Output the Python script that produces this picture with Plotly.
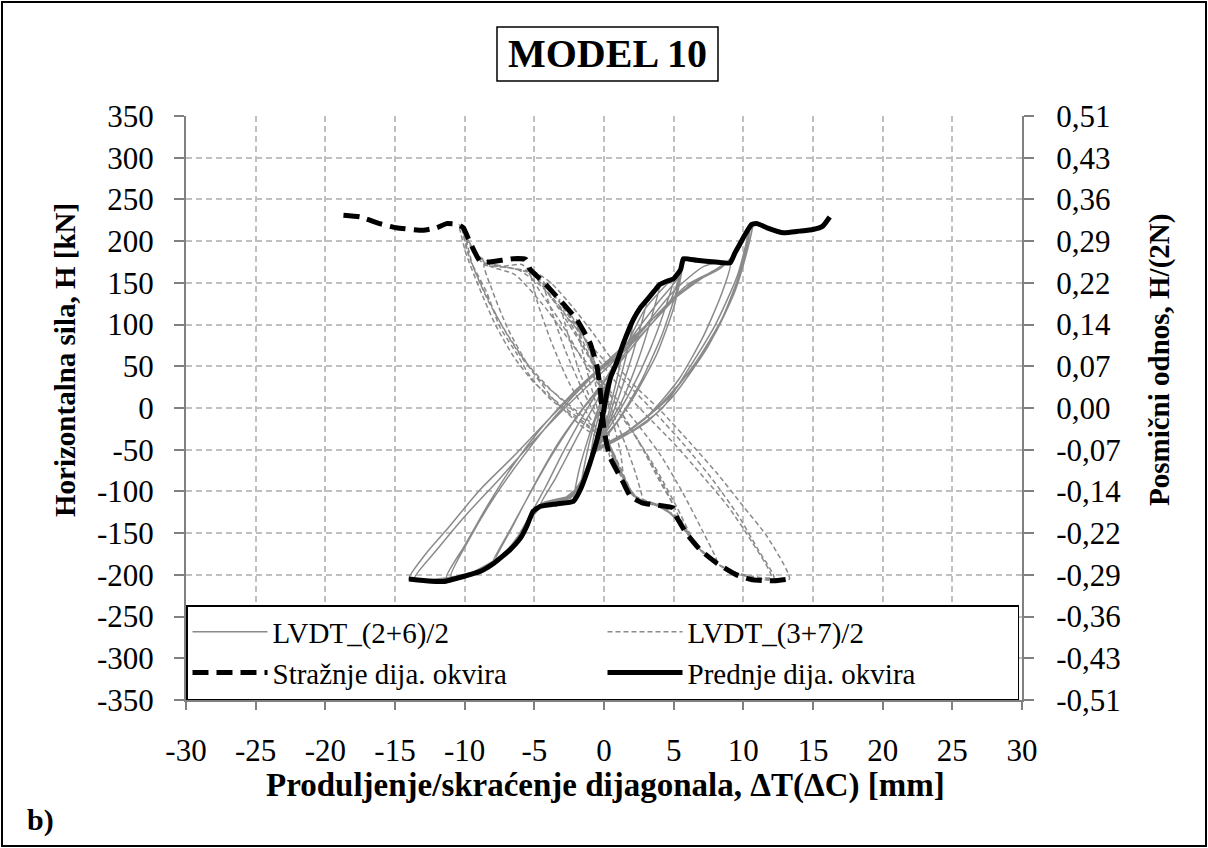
import plotly.graph_objects as go

# ---------------- data ----------------
x_ticks = [-30, -25, -20, -15, -10, -5, 0, 5, 10, 15, 20, 25, 30]
x_tick_labels = ["-30", "-25", "-20", "-15", "-10", "-5", "0", "5", "10", "15", "20", "25", "30"]
y_ticks = [350, 300, 250, 200, 150, 100, 50, 0, -50, -100, -150, -200, -250, -300, -350]
y_tick_labels = ["350", "300", "250", "200", "150", "100", "50", "0", "-50", "-100", "-150", "-200", "-250", "-300", "-350"]
y2_tick_labels = ["0,51", "0,43", "0,36", "0,29", "0,22", "0,14", "0,07", "0,00", "-0,07", "-0,14", "-0,22", "-0,29", "-0,36", "-0,43", "-0,51"]

# LVDT_(2+6)/2 hysteresis (thin solid grey)
lvdt26_x = [0, 0.25, 0.55, 0.35, 0.0, -0.4, -0.2, 0.1,
            0.4, 0.9, 1.4, 1.1, 0.6, 0.1, -0.5, -1.0, -0.8, -0.4, 0.1,
            0.8, 1.5, 2.1, 1.7, 1.0, 0.3, -0.6, -1.2, -1.7, -1.3, -0.8, -0.1, 0.7,
            1.5, 2.4, 3.1, 2.5, 1.5, 0.5, -0.6, -1.3, -2.2, -1.8, -1.2, -0.4, 0.6, 1.7,
            2.8, 4.0, 3.4, 2.4, 1.2, -0.2, -1.0, -1.7, -2.8, -4.6, -3.5, -2.4, -1.2, 0.2, 1.6, 3.0,
            5.0, 4.4, 3.3, 1.9, 0.5, -0.7, -1.5, -2.4, -4.2, -5.3, -4.2, -3.0, -1.6, 0.0, 1.8, 3.8, 5.5,
            5.7, 5.2, 4.1, 2.6, 1.0, -0.6, -1.5, -2.4, -4.4, -5.4, -6.6, -7.8, -6.5, -5.0, -3.4, -1.5, 0.6, 2.8, 5.0, 7.2, 9.05,
            8.4, 7.1, 5.4, 3.4, 1.2, -0.7, -1.6, -2.6, -4.6, -5.6, -6.8, -8.6, -11.3, -10.0, -8.4, -6.5, -4.4, -2.0, 0.6, 3.4, 6.2, 8.4, 9.4, 10.5,
            10.1, 9.0, 7.4, 5.0, 3.0, 1.0, -0.8, -1.6, -2.5, -4.4, -5.5, -6.9, -9.0, -11.5, -14.0, -12.8, -11.3, -8.9, -6.5, -4.0, -1.5, 1.5, 3.8, 6.0, 8.3, 9.4, 10.2, 10.7,
            10.3, 9.4, 8.0, 6.2, 3.8, 1.5, -0.6, -1.5, -2.4, -4.5, -5.6, -7.0, -9.5, -12.0, -13.6, -12.0, -10.0, -7.5, -5.2, -2.8, 0.0, 2.8, 5.5, 8.0, 9.2, 10.4,
            9.6, 8.0, 6.0, 4.2,
            1.8, -0.7, -1.5, -2.3, -4.3, -5.4, -6.7, -8.0, -6.8, -5.4, -3.8, -2.0, 0.2, 2.6, 4.8, 5.6,
            5.0, 3.8, 2.2, 0.6, -0.8, -1.6, -3.0, -4.8, -5.8, -7.2, -9.5, -11.0, -9.6, -7.8, -5.8, -3.5, -1.0, 1.8, 4.6, 7.4, 9.2, 10.3,
            9.8, 8.5, 6.6, 4.4, 2.0, -0.5, -1.4, -2.3, -4.4, -5.4, -6.4, -7.5]
lvdt26_h = [0, 22, 40, 15, -8, -30, -10, 12,
            30, 55, 78, 48, 12, -20, -42, -66, -40, -10, 20,
            52, 82, 106, 70, 25, -15, -48, -75, -98, -60, -25, 15, 50,
            85, 112, 130, 90, 35, -12, -48, -80, -112, -75, -40, 0, 45, 90,
            122, 148, 108, 55, 5, -35, -65, -95, -110, -118, -85, -50, -12, 30, 75, 120,
            155, 120, 70, 20, -20, -50, -85, -108, -114, -130, -95, -55, -12, 32, 80, 125, 160,
            178, 140, 85, 30, -15, -48, -82, -108, -116, -136, -165, -182, -140, -92, -45, 0, 45, 95, 140, 170, 174,
            135, 85, 35, -5, -35, -52, -88, -108, -117, -140, -168, -192, -203, -165, -118, -68, -22, 22, 62, 105, 148, 168, 186, 221,
            180, 125, 72, 15, -18, -38, -55, -86, -106, -115, -138, -170, -195, -204, -205, -175, -146, -98, -58, -14, 28, 70, 112, 148, 168, 184, 208, 222,
            190, 140, 90, 45, 0, -30, -52, -84, -106, -116, -140, -172, -198, -205, -204, -170, -130, -85, -42, 0, 45, 90, 138, 166, 180, 215,
            160, 100, 45, 0,
            -30, -50, -83, -105, -115, -136, -167, -185, -148, -105, -58, -12, 35, 85, 130, 165,
            120, 65, 15, -25, -55, -90, -110, -120, -145, -175, -197, -202, -155, -105, -58, -10, 35, 78, 125, 160, 178, 212,
            165, 108, 55, 8, -25, -50, -80, -104, -114, -132, -160, -180]

# LVDT_(3+7)/2 hysteresis (thin dashed grey)
lvdt37_x = [0, -0.2, -0.35, -0.15, 0.05, 0.25, 0.1, -0.1,
            -0.4, -0.75, -1.0, -0.8, -0.5, -0.1, 0.2, 0.4, 0.35, 0.1, -0.3,
            -0.9, -1.5, -1.96, -1.6, -1.0, -0.3, 0.3, 0.9, 1.4, 1.2, 0.7, 0.1, -0.6,
            -1.6, -2.5, -3.2, -2.7, -1.8, -0.7, 0.2, 0.9, 1.8, 2.8, 2.3, 1.5, 0.5, -0.6, -1.8,
            -3.0, -4.4, -3.8, -2.8, -1.5, -0.2, 0.5, 1.3, 2.2, 3.5, 5.0, 4.0, 2.8, 1.4, -0.1, -1.5, -3.0,
            -4.6, -5.3, -4.8, -3.8, -2.5, -1.0, 0.4, 1.4, 2.2, 4.0, 5.4, 5.9, 4.8, 3.4, 1.8, 0.2, -1.4, -3.2, -4.8, -5.9,
            -7.2, -8.6, -8.0, -6.9, -5.4, -3.6, -1.6, 0.3, 1.3, 2.1, 3.6, 5.4, 6.6, 8.1, 7.0, 5.6, 4.0, 2.2, 0.2, -2.0, -4.2, -6.4, -8.2, -9.2, -10.1,
            -9.6, -8.4, -7.5, -6.3, -5.3, -3.8, -1.8, 0.3, 1.3, 2.1, 3.8, 5.4, 6.6, 8.3, 10.3, 12.2, 11.0, 9.6, 7.8, 5.8, 3.8, 1.6, -0.8, -2.8, -4.5, -6.2, -8.2, -9.3, -10.4,
            -9.9, -8.9, -7.8, -6.5, -5.0, -3.2, -1.2, 0.4, 1.4, 2.2, 4.0, 5.5, 6.8, 8.6, 11.0, 13.3, 11.7, 10.0, 8.1, 6.2, 4.0, 2.0, 0.5, -0.8, -2.2, -3.8, -5.0, -7.5, -9.1, -9.9,
            -9.4, -8.3, -7.0, -5.6, -4.0, -2.2, -0.4, 0.5, 1.5, 2.5, 4.3, 5.6, 7.0, 9.0, 12.0, 10.6, 8.9, 7.0, 5.1, 3.0, 1.0, -0.7, -2.0, -3.6, -5.0, -6.8, -8.6, -9.5, -10.2,
            -9.7, -8.6, -7.2, -5.8, -4.4, -2.6, -0.8, 0.5, 1.4, 2.4, 4.2, 5.5, 6.4, 5.2, 3.8, 2.3, 0.6, -1.2, -3.0, -4.6, -5.4]
lvdt37_h = [0, 14, 30, 8, -10, -40, -15, 10,
            35, 60, 78, 50, 18, -15, -38, -58, -30, 0, 30,
            62, 88, 106, 72, 30, -10, -40, -68, -90, -55, -20, 15, 52,
            90, 115, 130, 95, 45, 0, -35, -66, -100, -114, -80, -42, 0, 45, 90,
            122, 152, 118, 70, 20, -22, -50, -82, -106, -116, -120, -88, -50, -10, 32, 75, 118,
            150, 166, 128, 80, 30, -12, -48, -82, -106, -118, -135, -150, -110, -66, -20, 22, 70, 118, 155, 172,
            170, 173, 140, 95, 50, 10, -22, -45, -80, -105, -116, -132, -165, -184, -145, -100, -55, -15, 25, 70, 120, 160, 170, 184, 214,
            178, 138, 98, 66, 38, 10, -15, -42, -78, -104, -117, -134, -164, -188, -202, -204, -168, -128, -86, -45, -8, 30, 72, 112, 146, 166, 172, 186, 220,
            185, 142, 100, 62, 30, 5, -20, -45, -80, -105, -117, -138, -168, -192, -205, -205, -154, -118, -78, -42, -2, 30, 60, 90, 120, 150, 163, 170, 183, 205,
            170, 128, 90, 55, 25, -3, -28, -55, -88, -110, -118, -142, -172, -195, -203, -160, -118, -80, -44, -8, 28, 65, 100, 135, 160, 168, 172, 192, 216,
            182, 140, 95, 58, 30, 5, -20, -48, -84, -108, -118, -140, -160, -118, -75, -35, 5, 48, 100, 140, 162]

# Stražnje dija. okvira (thick dashed black)
straznje_x = [-18.7, -17.5, -16.1, -14.9, -13.0, -12.0, -11.3, -10.5, -10.1, -9.6, -8.9, -8.2, -6.5, -5.6, -5.3,
              -4.4, -3.2, -1.96, -1.0, -0.5, -0.3, -0.15, 0.0, 0.4, 1.4, 1.9, 2.8, 5.0, 5.2, 5.9, 6.9, 8.1,
              9.5, 10.7, 12.2, 13.3]
straznje_h = [231, 229, 221, 216, 213, 216, 221, 220, 216, 198, 176, 175, 179, 178, 166,
              152, 130, 106, 78, 50, 26, 0, -26, -58, -90, -106, -114, -120, -130, -150, -170, -186,
              -200, -206, -207, -205]

# Prednje dija. okvira (thick solid black)
prednje_x = [-14.0, -12.8, -11.5, -10.1, -8.9, -7.9, -6.75, -6.0, -5.55, -5.1, -4.6, -3.4, -2.2, -1.7, -1.0,
             -0.5, -0.1, 0.2, 0.5, 0.9, 1.4, 2.1, 2.6, 3.1, 3.6, 4.0, 4.5, 5.0, 5.5, 5.7, 6.65, 8.0, 9.05,
             9.4, 9.8, 10.2, 10.6, 11.0, 11.7, 12.9, 14.0, 15.0, 15.7, 16.2]
prednje_h = [-205, -207, -208, -202, -196, -186, -170, -156, -142, -124, -118, -115, -112, -98, -66,
             -38, -10, 18, 38, 54, 78, 106, 120, 130, 140, 148, 152, 155, 166, 179, 177, 175, 174,
             186, 198, 210, 220, 221, 216, 210, 212, 214, 218, 229]

# ---------------- figure ----------------
FONT = "Liberation Serif"
GREY = "#8a8a8a"

fig = go.Figure()
fig.add_trace(go.Scatter(x=lvdt26_x, y=lvdt26_h, mode="lines", name="LVDT_(2+6)/2",
                         line=dict(color=GREY, width=1.5, shape="spline", smoothing=0.6)))
fig.add_trace(go.Scatter(x=lvdt37_x, y=lvdt37_h, mode="lines", name="LVDT_(3+7)/2",
                         line=dict(color=GREY, width=1.5, dash="5px,3px", shape="spline", smoothing=0.6)))
fig.add_trace(go.Scatter(x=straznje_x, y=straznje_h, mode="lines", name="Stražnje dija. okvira",
                         line=dict(color="black", width=5, dash="16px,8px", shape="spline", smoothing=0.4)))
fig.add_trace(go.Scatter(x=prednje_x, y=prednje_h, mode="lines", name="Prednje dija. okvira",
                         line=dict(color="black", width=5, shape="spline", smoothing=0.4)))
# secondary axis carrier
fig.add_trace(go.Scatter(x=[None], y=[None], yaxis="y2", showlegend=False, hoverinfo="skip"))

axis_common = dict(
    showgrid=True, gridcolor="#c0c0c0", gridwidth=1.5, griddash="6px,4px",
    showline=True, linecolor="#808080", linewidth=2,
    ticks="outside", tickcolor="#808080", tickwidth=1.5,
    zeroline=False, tickfont=dict(family=FONT, size=31, color="black"),
)

fig.update_layout(
    width=1208, height=848,
    paper_bgcolor="white", plot_bgcolor="white",
    margin=dict(l=186, r=186, t=116, b=148),
    font=dict(family=FONT, color="black"),
    xaxis=dict(range=[-30, 30], tickvals=x_ticks, ticktext=x_tick_labels, ticklen=8,
               ticklabelstandoff=14, **axis_common),
    yaxis=dict(range=[-350, 350], tickvals=y_ticks, ticktext=y_tick_labels, ticklen=10,
               ticklabelstandoff=14, **axis_common),
    yaxis2=dict(range=[-350, 350], overlaying="y", side="right", tickvals=y_ticks, ticktext=y2_tick_labels,
                showgrid=False, showline=True, linecolor="#808080", linewidth=2, ticks="outside",
                tickcolor="#808080", tickwidth=1.5, ticklen=10, ticklabelstandoff=16, zeroline=False,
                tickfont=dict(family=FONT, size=31, color="black")),
    legend=dict(orientation="h", x=0, y=0, xanchor="left", yanchor="bottom",
                bgcolor="white", bordercolor="black", borderwidth=1.5,
                font=dict(family=FONT, size=29, color="black"),
                entrywidth=325, entrywidthmode="pixels", itemwidth=75),
    showlegend=True,
)

W, L, T, B = 836.0, 186.0, 116.0, 700.0
H = B - T

def px(xp):
    return (xp - L) / W

def py(yp):
    return (B - yp) / H

shapes = [
    dict(type="rect", xref="paper", yref="paper", x0=px(2), x1=px(1206), y0=py(846), y1=py(2),
         line=dict(color="black", width=2), layer="above"),
    dict(type="rect", xref="paper", yref="paper", x0=px(497), x1=px(718), y0=py(81), y1=py(27),
         line=dict(color="black", width=1.5), fillcolor="white", layer="above"),
]
fig.update_layout(shapes=shapes)

annotations = [
    dict(text="<b>MODEL 10</b>", xref="paper", yref="paper", x=px(607), y=py(54),
         showarrow=False, xanchor="center", yanchor="middle", font=dict(family=FONT, size=40)),
    dict(text="<b>Horizontalna sila, H [kN]</b>", xref="paper", yref="paper", x=px(65), y=py(360),
         showarrow=False, textangle=-90, xanchor="center", yanchor="middle", font=dict(family=FONT, size=29)),
    dict(text="<b>Posmični odnos, H/(2N)</b>", xref="paper", yref="paper", x=px(1159), y=py(360),
         showarrow=False, textangle=-90, xanchor="center", yanchor="middle", font=dict(family=FONT, size=29)),
    dict(text="<b>Produljenje/skraćenje dijagonala, ΔT(ΔC) [mm]</b>", xref="paper", yref="paper",
         x=px(605), y=py(785), showarrow=False, xanchor="center", yanchor="middle",
         font=dict(family=FONT, size=33)),
    dict(text="<b>b)</b>", xref="paper", yref="paper", x=px(40), y=py(820), showarrow=False,
         xanchor="center", yanchor="middle", font=dict(family=FONT, size=30)),
]
fig.update_layout(annotations=annotations)

fig.write_html("out.html", config={"displayModeBar": False},
               post_script="document.body.style.margin='0px';")
